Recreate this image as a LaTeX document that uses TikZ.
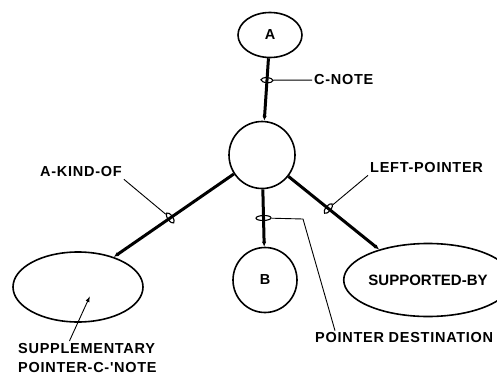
\documentclass[tikz,border=0pt]{standalone}
\usepackage{fontspec}
\setmainfont{Liberation Sans}
\newfontfamily\lblfont[LetterSpace=5]{Liberation Sans}
\usetikzlibrary{positioning,arrows.meta,shapes.geometric}

\tikzset{
  concept/.style={draw, line width=1.6pt, ellipse, inner sep=0pt,
    font=\lblfont\bfseries\fontsize{14.5}{19}\selectfont},
  link/.style={line width=3pt, -{Latex[length=5pt,width=4.5pt]}},
  loopmark/.style={draw, line width=1.1pt, ellipse, inner sep=0pt,
    minimum width=5pt, minimum height=12pt, sloped},
  leader/.style={line width=0.9pt},
  lbl/.style={font=\lblfont\bfseries\fontsize{14.5}{19}\selectfont, inner sep=2pt},
}

\begin{document}
\begin{tikzpicture}[x=1pt, y=-1pt, >=Latex]
  \useasboundingbox (0,0) rectangle (497,377);
  % concepts
  \node[concept, minimum width=64pt, minimum height=45pt] (A) at (270,35) {A};
  \node[concept, minimum width=66pt, minimum height=67pt] (C) at (262,155) {};
  \node[concept, minimum width=64pt, minimum height=65pt] (B) at (265,280) {B};
  \node[concept, minimum width=130pt, minimum height=73pt,
    font=\bfseries\fontsize{15}{18}\selectfont] (R) at (428,280) {SUPPORTED-BY};
  \node[concept, minimum width=130pt, minimum height=70pt] (L) at (78,287) {};
  % links with their markers
  \draw[link] (A) -- node[loopmark, pos=0.35] (m1) {} (C);
  \draw[link] (C) -- node[loopmark, pos=0.5, minimum height=15pt] (m2) {} (B);
  \draw[link] (C.214) -- node[loopmark, pos=0.53] (m3) {} (L.40);
  \draw[link] (C.-39) -- node[loopmark, pos=0.44] (m4) {} (R.148);
  % labels
  \node[lbl, anchor=west] (cnote) at (312,80) {C-NOTE};
  \draw[leader] (m1) -- (cnote);
  \node[lbl, anchor=west] (akind) at (38,172) {A-KIND-OF};
  \draw[leader] (m3) -- (akind.south east);
  \node[lbl, anchor=west] (lptr) at (368,168) {LEFT-POINTER};
  \draw[leader] (m4) -- (lptr.south west);
  \node[lbl, anchor=west] (pdest) at (313,338) {POINTER DESTINATION};
  \coordinate (pbend) at (303,219);
  \draw[leader] (m2) -- (pbend) -- ([xshift=22pt]pdest.north west);
  \node[lbl, anchor=north west, align=left] (supp) at (16,341)
    {SUPPLEMENTARY\\POINTER-C-'NOTE};
  \coordinate (spt) at (90,296);
  \draw[leader, -{Latex[length=6pt,width=4pt]}] ([xshift=-18pt]supp.north) -- (spt);
\end{tikzpicture}
\end{document}
